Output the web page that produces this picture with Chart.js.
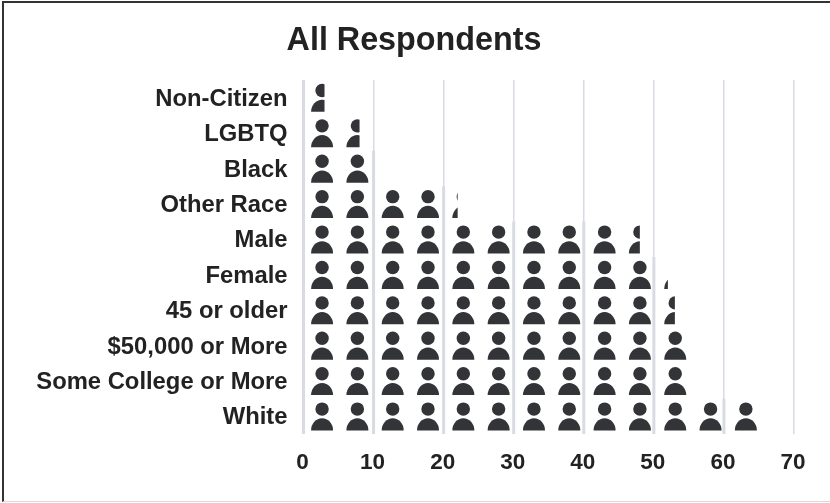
<!DOCTYPE html>
<html>
<head>
<meta charset="utf-8">
<title>All Respondents</title>
<script src="https://cdn.jsdelivr.net/npm/chart.js@4"></script>
<style>
    html, body { margin: 0; padding: 0; background: #fff; }
    #wrap { position: relative; width: 830px; height: 503px; overflow: hidden; }
    /* frame: dark top and left, pale bottom, nothing on the right */
    #wrap::before {
        content: ''; position: absolute; left: 2px; top: 1px; right: -4px; bottom: 1px;
        border-top: 2px solid #333; border-left: 2px solid #333; border-bottom: 1px solid #dcdcdc;
        pointer-events: none; z-index: 1;
    }
</style>
</head>
<body>
<div id="wrap"><canvas id="chart" width="830" height="503"></canvas></div>
<script>
const categories = ['Non-Citizen', 'LGBTQ', 'Black', 'Other Race', 'Male', 'Female',
    '45 or older', '$50,000 or More', 'Some College or More', 'White'];
const percentages = [3, 8, 10, 22, 48, 52, 53, 55, 55, 65];
const xTicks = [0, 10, 20, 30, 40, 50, 60, 70];

const UNITS_PER_ICON = 5;
const INK = '#333438';
const GRID = '#d9dbe3';
const FONT = '"Liberation Sans", Arial, sans-serif';

function drawPerson(ctx, cx, cy) {
    ctx.beginPath();
    ctx.arc(cx, cy - 7.2, 6.7, 0, Math.PI * 2);
    ctx.fill();
    ctx.beginPath();
    ctx.ellipse(cx, cy + 14.2, 11, 12.2, 0, Math.PI, Math.PI * 2);
    ctx.closePath();
    ctx.fill();
}

// Gridlines run heavier wherever a bar reaches past them
const heavyGrid = {
    id: 'heavyGrid',
    beforeDatasetsDraw(chart) {
        const { ctx, scales: { x } } = chart;
        const bars = chart.getDatasetMeta(0).data;
        ctx.save();
        ctx.strokeStyle = GRID;
        ctx.lineWidth = 3;
        xTicks.forEach((tick) => {
            const first = percentages.findIndex(v => v >= tick);
            if (first < 0) return;
            const px = x.getPixelForValue(tick);
            ctx.beginPath();
            ctx.moveTo(px, bars[first].y - bars[first].height / 2);
            ctx.lineTo(px, chart.chartArea.bottom);
            ctx.stroke();
        });
        ctx.restore();
    },
};

// Repeats the person icon along each bar, cut off at the bar's end
const personBars = {
    id: 'personBars',
    afterDatasetsDraw(chart) {
        const { ctx, scales: { x } } = chart;
        const step = x.getPixelForValue(UNITS_PER_ICON) - x.getPixelForValue(0);
        chart.getDatasetMeta(0).data.forEach((bar) => {
            ctx.save();
            ctx.beginPath();
            ctx.rect(x.left, bar.y - bar.height / 2, bar.x - x.left, bar.height);
            ctx.clip();
            ctx.fillStyle = INK;
            for (let cx = x.left + step * 0.53; cx < bar.x + step; cx += step * 1.008) {
                drawPerson(ctx, cx, bar.y);
            }
            ctx.restore();
        });
    },
};

new Chart(document.getElementById('chart'), {
    type: 'bar',
    data: {
        labels: categories,
        datasets: [{
            data: percentages,
            backgroundColor: 'rgba(0,0,0,0)',
            categoryPercentage: 1,
            barPercentage: 1,
        }],
    },
    options: {
        indexAxis: 'y',
        responsive: false,
        animation: false,
        layout: { padding: { top: 22, left: 34, right: 36, bottom: 0 } },
        plugins: {
            legend: { display: false },
            tooltip: { enabled: false },
            title: {
                display: true,
                text: 'All Respondents',
                color: '#222',
                font: { family: FONT, size: 32.3, weight: 'bold' },
                padding: { top: 0, bottom: 19.2 },
            },
        },
        scales: {
            x: {
                min: 0,
                max: 70,
                afterBuildTicks: (scale) => { scale.ticks = xTicks.map(value => ({ value })); },
                afterFit: (scale) => { scale.height = 69; },
                grid: { color: GRID, lineWidth: 1.5, drawTicks: false },
                border: { display: false },
                ticks: {
                    color: '#222',
                    padding: 15,
                    maxRotation: 0,
                    labelOffset: -1,
                    font: { family: FONT, size: 22.5, weight: 'bold' },
                },
            },
            y: {
                afterFit: (scale) => { scale.width = 269.5; },
                grid: { display: false },
                border: { display: false },
                ticks: {
                    color: '#222',
                    padding: 8,
                    autoSkip: false,
                    labelOffset: 1.5,
                    font: { family: FONT, size: 23.8, weight: 'bold' },
                },
            },
        },
    },
    plugins: [heavyGrid, personBars],
});
</script>
</body>
</html>
